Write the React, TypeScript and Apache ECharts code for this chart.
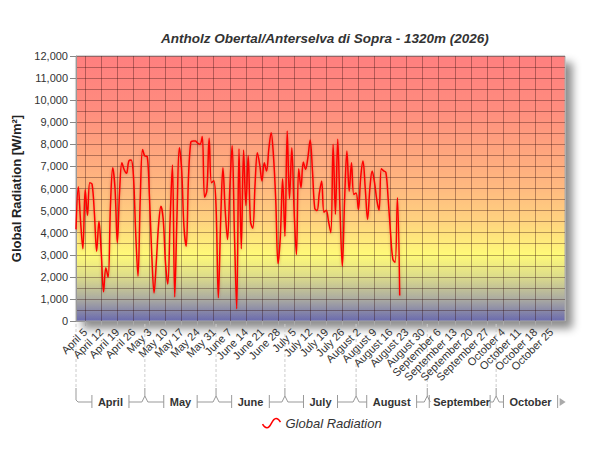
import React, { useEffect, useRef } from "react";
import * as echarts from "echarts";

const MONTHS = ["April", "May", "June", "July", "August", "September", "October"];
const MONTH_DAYS = [30, 31, 30, 31, 31, 30, 31];

// daily global radiation, starting April 1
const RADIATION = [
  4150, 6080, 4500, 3270, 5960, 4780, 6260, 6200, 4900, 3160,
  4520, 3100, 1320, 2410, 1980, 5200, 6940, 6000, 3540, 5900,
  7170, 6850, 6690, 7250, 7290, 6600, 4000, 2030, 5600, 7770,
  7470, 7450, 5600, 3000, 1270, 2700, 4400, 5200, 4600, 2600,
  1680, 4600, 7060, 1090, 4800, 7850, 6900, 4300, 3390, 6500,
  8100, 8150, 8150, 8050, 8000, 8350, 5600, 5900, 8270, 6260,
  6350, 5200, 1050, 4500, 6940, 5000, 3690, 6000, 7950, 4000,
  550, 7800, 3270, 7740, 5230, 7500, 4500, 4200, 6200, 7620,
  7100, 6340, 7170, 6790, 7800, 8530, 7500, 5500, 2600, 3800,
  6440, 3840, 8600, 5540, 7850, 5000, 3010, 6900, 6040, 7200,
  6870, 7400, 8200, 6800, 5100, 5000, 5800, 6340, 4930, 5020,
  4500, 4000, 8000, 4830, 8230, 5000, 2480, 5500, 7700, 5880,
  7170, 5730, 5800, 5050, 6500, 7240, 6000, 4600, 6000, 6790,
  6300, 5500, 5020, 6900, 6800, 6720, 5500, 4000, 2800, 2660,
  5580, 1150,
];

const FONT = "'Liberation Sans', Arial, sans-serif";

const dayLabels: string[] = [];
const monthStart: number[] = [];
MONTHS.forEach((m, i) => {
  monthStart.push(dayLabels.length);
  for (let d = 1; d <= MONTH_DAYS[i]; d++) dayLabels.push(`${m} ${d}`);
});
// first Sunday is April 5
const isSunday = (i: number) => i % 7 === 4;

const measure = (text: string, font: string) => {
  const ctx = document.createElement("canvas").getContext("2d");
  if (!ctx) return text.length * 6;
  ctx.font = font;
  return ctx.measureText(text).width;
};

const App: React.FC = () => {
  const chartRef = useRef<HTMLDivElement>(null);

  useEffect(() => {
    if (!chartRef.current) return;
    const chart = echarts.init(chartRef.current, undefined, { renderer: "svg" });

    const gridColor = "rgba(50,15,15,0.36)";

    chart.setOption({
      animation: false,
      title: {
        text: "Antholz Obertal/Anterselva di Sopra - 1320m (2026)",
        left: 156,
        top: 26,
        textStyle: {
          fontFamily: FONT,
          fontSize: 13.5,
          fontWeight: "bold",
          fontStyle: "italic",
          color: "#333",
        },
      },
      legend: {
        data: [
          {
            name: "Global Radiation",
            icon: "path://M0,7 C3,12 6,12 9,6 C12,0 15,0 18,5",
          },
        ],
        left: 255,
        top: 411,
        itemWidth: 18,
        itemHeight: 10,
        itemGap: 6,
        itemStyle: { color: "none", borderColor: "#ff0000", borderWidth: 1.5 },
        textStyle: { fontFamily: FONT, fontSize: 13, fontStyle: "italic", color: "#333" },
      },
      grid: {
        left: 76,
        right: 35,
        top: 56,
        bottom: 129,
        show: true,
        borderWidth: 1,
        borderColor: "#aaa",
        backgroundColor: new echarts.graphic.LinearGradient(0, 0, 0, 1, [
          { offset: 0, color: "#ff7f7f" },
          { offset: 0.2, color: "#ff8c7e" },
          { offset: 0.35, color: "#ffa47e" },
          { offset: 0.5, color: "#ffba80" },
          { offset: 0.62, color: "#ffd27f" },
          { offset: 0.75, color: "#fffa78" },
          { offset: 0.83, color: "#dedd8a" },
          { offset: 0.92, color: "#a9a9a2" },
          { offset: 1, color: "#6a6aae" },
        ]),
        shadowColor: "rgba(0,0,0,0.45)",
        shadowBlur: 8,
        shadowOffsetX: 7,
        shadowOffsetY: 7,
      },
      xAxis: {
        type: "category",
        data: dayLabels,
        boundaryGap: false,
        axisLine: { lineStyle: { color: "#999" } },
        axisTick: { interval: (i: number) => isSunday(i), length: 5, lineStyle: { color: "#aaa" } },
        axisLabel: {
          interval: (i: number) => isSunday(i),
          rotate: 45,
          margin: 9,
          fontFamily: FONT,
          fontSize: 11,
          color: "#333",
        },
        splitLine: {
          show: true,
          interval: (i: number) => isSunday(i),
          lineStyle: { color: gridColor, width: 1 },
        },
      },
      yAxis: {
        type: "value",
        min: 0,
        max: 12000,
        interval: 1000,
        name: "Global Radiation [W/m²]",
        nameLocation: "middle",
        nameGap: 47,
        nameTextStyle: { fontFamily: FONT, fontSize: 13, fontWeight: "bold", color: "#222" },
        axisLine: { show: true, lineStyle: { color: "#999" } },
        axisTick: { show: true, length: 6, lineStyle: { color: "#888" } },
        axisLabel: {
          margin: 8,
          fontFamily: FONT,
          fontSize: 11,
          color: "#333",
          formatter: (v: number) => v.toLocaleString("en-US"),
        },
        splitLine: { lineStyle: { color: gridColor, width: 1 } },
        minorTick: { show: false, splitNumber: 2 },
        minorSplitLine: { show: true, lineStyle: { color: gridColor, width: 1 } },
      },
      series: [
        {
          name: "Global Radiation",
          type: "line",
          data: RADIATION,
          smooth: 0.35,
          showSymbol: false,
          lineStyle: {
            color: "#ff0000",
            width: 1.5,
            shadowColor: "rgba(120,0,0,0.3)",
            shadowBlur: 3,
            shadowOffsetY: 1,
          },
          itemStyle: { color: "#ff0000" },
        },
      ],
    });

    // month brackets under the day labels
    const px = (i: number) => chart.convertToPixel({ xAxisIndex: 0 }, i) as number;
    const y0 = chart.convertToPixel({ yAxisIndex: 0 }, 0) as number;
    const dashTop = y0 + 3;
    const dashBottom = y0 + 67;
    const lineY = y0 + 81;
    const peakY = y0 + 75;
    const stroke = "#999";
    const monthFont = `bold 11px ${FONT}`;
    const elements: any[] = [];
    const ends = [...monthStart.slice(1), dayLabels.length - 1];

    monthStart.forEach((s, i) => {
      const a = px(s);
      const b = px(ends[i]);
      elements.push({
        type: "line",
        silent: true,
        shape: { x1: a, y1: dashTop, x2: a, y2: dashBottom },
        style: { stroke: "#ccc", lineWidth: 1, lineDash: [3, 2] },
      });
      if (i === 0) {
        elements.push({
          type: "polyline",
          silent: true,
          shape: { points: [[a, dashBottom], [a, lineY - 2], [a + 2, lineY]] },
          style: { stroke, lineWidth: 1, fill: "none" },
        });
      } else {
        elements.push({
          type: "polyline",
          silent: true,
          shape: { points: [[a, dashBottom], [a, peakY]] },
          style: { stroke, lineWidth: 1, fill: "none" },
        });
        elements.push({
          type: "polyline",
          silent: true,
          shape: { points: [[a - 3, lineY], [a, peakY], [a + 3, lineY]] },
          style: { stroke, lineWidth: 1, fill: "none" },
        });
      }
      const c = (a + b) / 2;
      const hw = measure(MONTHS[i], monthFont) / 2 + 6;
      const lt = Math.max(a + 2, c - hw);
      const rt = Math.min(b - 6, c + hw);
      const left0 = i === 0 ? a + 2 : a + 3;
      if (lt > left0) {
        elements.push({
          type: "line",
          silent: true,
          shape: { x1: left0, y1: lineY, x2: lt, y2: lineY },
          style: { stroke, lineWidth: 1 },
        });
      }
      const last = i === MONTHS.length - 1;
      if (!last && b - 3 > rt) {
        elements.push({
          type: "line",
          silent: true,
          shape: { x1: rt, y1: lineY, x2: b - 3, y2: lineY },
          style: { stroke, lineWidth: 1 },
        });
      }
      [lt, rt].forEach((t) =>
        elements.push({
          type: "line",
          silent: true,
          shape: { x1: t, y1: lineY - 7, x2: t, y2: lineY + 6 },
          style: { stroke, lineWidth: 1 },
        })
      );
      if (last) {
        elements.push({
          type: "polygon",
          silent: true,
          shape: { points: [[rt + 2, lineY - 4], [rt + 2, lineY + 4], [rt + 8, lineY]] },
          style: { fill: "#aaa" },
        });
      }
      elements.push({
        type: "text",
        silent: true,
        x: c,
        y: lineY,
        style: {
          text: MONTHS[i],
          font: monthFont,
          fill: "#333",
          textAlign: "center",
          textVerticalAlign: "middle",
        },
      });
    });

    chart.setOption({ graphic: elements });

    return () => {
      chart.dispose();
    };
  }, []);

  return (
    <div
      ref={chartRef}
      style={{ position: "fixed", left: 0, top: 0, width: "600px", height: "450px", background: "#fff" }}
    />
  );
};

export default App;
